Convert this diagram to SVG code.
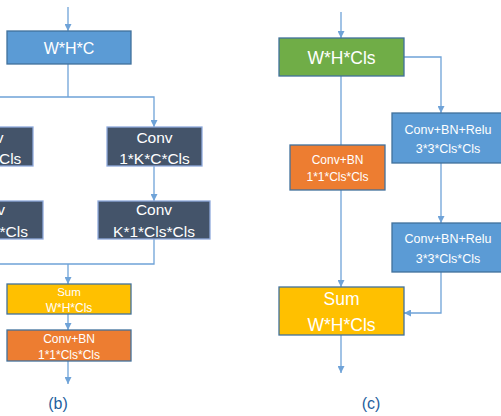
<svg xmlns="http://www.w3.org/2000/svg" width="501" height="416" viewBox="0 0 501 416">
<defs>
<style>
text{font-family:"Liberation Sans",Arial,sans-serif;fill:#fff;text-anchor:middle}
.c{fill:none;stroke:#6FA3D8;stroke-width:1.3}
.blue{fill:#5B9BD5;stroke:#41719C;stroke-width:1.3}
.dark{fill:#44546A;stroke:#8FAADC;stroke-width:1.3}
.green{fill:#70AD47;stroke:#41719C;stroke-width:1.3}
.orange{fill:#ED7D31;stroke:#41719C;stroke-width:1.3}
.gold{fill:#FFC000;stroke:#41719C;stroke-width:1.3}
.d{font-size:15.5px}
.lbl{fill:#1F5F9E;font-size:16px}
</style>
<marker id="a" markerWidth="7" markerHeight="7" refX="7" refY="3.5" orient="auto" markerUnits="userSpaceOnUse">
<path d="M0,0 L7,3.5 L0,7 Z" fill="#6FA3D8"/>
</marker>
</defs>
<g id="connectors">
<path class="c" d="M68,7 V31" marker-end="url(#a)"/>
<path class="c" d="M68,64 V97"/>
<path class="c" d="M-20,97 H154 V127" marker-end="url(#a)"/>
<path class="c" d="M154,166 V201" marker-end="url(#a)"/>
<path class="c" d="M154,239 V264 H-20"/>
<path class="c" d="M68,264 V284" marker-end="url(#a)"/>
<path class="c" d="M68,314 V330" marker-end="url(#a)"/>
<path class="c" d="M68,361 V384" marker-end="url(#a)"/>
<path class="c" d="M341,12 V38" marker-end="url(#a)"/>
<path class="c" d="M404,57 H441 V113" marker-end="url(#a)"/>
<path class="c" d="M341,76 V287" marker-end="url(#a)"/>
<path class="c" d="M441,163 V223" marker-end="url(#a)"/>
<path class="c" d="M441,272 V313 H404" marker-end="url(#a)"/>
<path class="c" d="M341,335 V373" marker-end="url(#a)"/>
</g>
<g id="b_whc">
<rect class="blue" x="7" y="31" width="124" height="33"/>
<text x="69" y="54" font-size="16">W*H*C</text>
</g>
<g id="b_conv_left1">
<rect class="dark" x="-62" y="127" width="95" height="39"/>
<text class="d" x="-14.5" y="143">Conv</text>
<text class="d" x="-14" y="164">K*1*C*Cls</text>
</g>
<g id="b_conv_right1">
<rect class="dark" x="107" y="127" width="95" height="39"/>
<text class="d" x="154.5" y="143">Conv</text>
<text class="d" x="154.5" y="164">1*K*C*Cls</text>
</g>
<g id="b_conv_left2">
<rect class="dark" x="-69" y="201" width="112" height="38"/>
<text class="d" x="-13" y="215">Conv</text>
<text class="d" x="-13" y="237">1*K*Cls*Cls</text>
</g>
<g id="b_conv_right2">
<rect class="dark" x="98" y="201" width="112" height="38"/>
<text class="d" x="154" y="215">Conv</text>
<text class="d" x="154" y="237">K*1*Cls*Cls</text>
</g>
<g id="b_sum">
<rect class="gold" x="7" y="284" width="124" height="30"/>
<text x="69" y="296" font-size="11.5">Sum</text>
<text x="69" y="312" font-size="12">W*H*Cls</text>
</g>
<g id="b_convbn">
<rect class="orange" x="7" y="330" width="124" height="31"/>
<text x="69" y="343" font-size="12">Conv+BN</text>
<text x="69" y="359" font-size="12">1*1*Cls*Cls</text>
</g>
<g id="c_whcls">
<rect class="green" x="279" y="38" width="125" height="38"/>
<text x="341.5" y="64" font-size="17.5">W*H*Cls</text>
</g>
<g id="c_relu1">
<rect class="blue" x="392" y="113" width="112" height="50"/>
<text x="448" y="134" font-size="12.5">Conv+BN+Relu</text>
<text x="448" y="153" font-size="12.5">3*3*Cls*Cls</text>
</g>
<g id="c_convbn">
<rect class="orange" x="290" y="145" width="95" height="45"/>
<text x="337.5" y="164" font-size="12">Conv+BN</text>
<text x="337.5" y="181" font-size="12">1*1*Cls*Cls</text>
</g>
<g id="c_relu2">
<rect class="blue" x="392" y="223" width="112" height="49"/>
<text x="448" y="243" font-size="12.5">Conv+BN+Relu</text>
<text x="448" y="263" font-size="12.5">3*3*Cls*Cls</text>
</g>
<g id="c_sum">
<rect class="gold" x="279" y="287" width="125" height="48"/>
<text x="341.5" y="305" font-size="17.5">Sum</text>
<text x="341.5" y="331" font-size="17.5">W*H*Cls</text>
</g>
<text class="lbl" x="58" y="409">(b)</text>
<text class="lbl" x="371" y="409">(c)</text>
</svg>
